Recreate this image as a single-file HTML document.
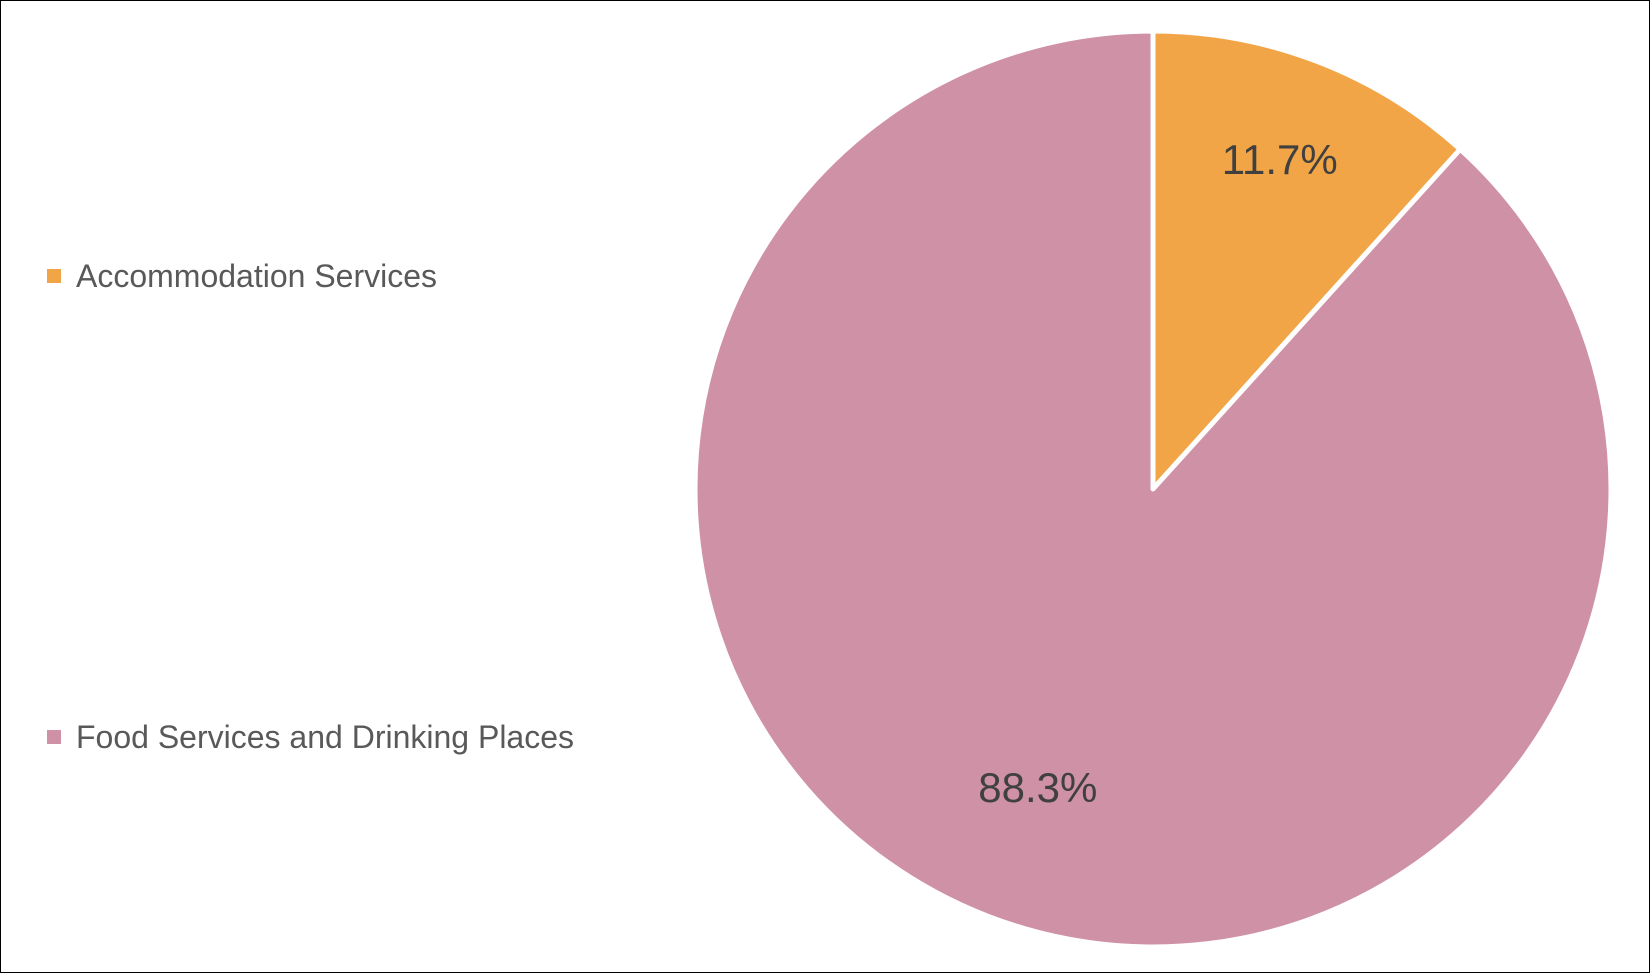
<!DOCTYPE html>
<html><head><meta charset="utf-8"><style>
html,body{margin:0;padding:0;background:#fff}
svg{display:block}
</style></head><body>
<svg width="1650" height="973" viewBox="0 0 1650 973" xmlns="http://www.w3.org/2000/svg">
<rect x="0.5" y="0.5" width="1649" height="972" fill="#fff" stroke="#000" stroke-width="1"/>
<g id="slices"></g>
<g id="legend"></g>
</svg>
<script>
const categories=["Accommodation Services","Food Services and Drinking Places"];
const values=[11.7,88.3];
const labels=["11.7%","88.3%"];
const colors=["#F2A546","#CF91A6"];
const NS="http://www.w3.org/2000/svg";
const cx=1153,cy=489,r=458;
const total=values.reduce((a,b)=>a+b,0);
const g=document.getElementById('slices');
let a0=0;
function pt(a,rr){return [cx+rr*Math.sin(a),cy-rr*Math.cos(a)];}
values.forEach((v,i)=>{
  const a1=a0+v/total*2*Math.PI;
  const p0=pt(a0,r),p1=pt(a1,r);
  const large=(a1-a0)>Math.PI?1:0;
  const p=document.createElementNS(NS,'path');
  p.setAttribute('d',`M${cx},${cy} L${p0[0]},${p0[1]} A${r},${r} 0 ${large} 1 ${p1[0]},${p1[1]} Z`);
  p.setAttribute('fill',colors[i]);
  p.setAttribute('stroke','#fff');
  p.setAttribute('stroke-width','5');
  p.setAttribute('stroke-linejoin','round');
  
  
  g.appendChild(p);
  const mid=(a0+a1)/2;
  const lp=pt(mid,i===0?r*0.77:r*0.7);
  const t=document.createElementNS(NS,'text');
  t.setAttribute('x',lp[0]);t.setAttribute('y',lp[1]+14);
  t.setAttribute('text-anchor','middle');
  t.setAttribute('font-family','Liberation Sans, sans-serif');
  t.setAttribute('font-size','42');
  t.setAttribute('fill','#404040');
  
  
  t.textContent=labels[i];
  g.appendChild(t);
  a0=a1;
});
const lg=document.getElementById('legend');
const ly=[276,737];
categories.forEach((c,i)=>{
  const s=document.createElementNS(NS,'rect');
  s.setAttribute('x',47);s.setAttribute('y',ly[i]-7);s.setAttribute('width',14);s.setAttribute('height',14);
  s.setAttribute('fill',colors[i]);
  
  
  lg.appendChild(s);
  const t=document.createElementNS(NS,'text');
  t.setAttribute('x',76);t.setAttribute('y',ly[i]+11);
  t.setAttribute('font-family','Liberation Sans, sans-serif');
  t.setAttribute('font-size','32');
  t.setAttribute('fill','#595959');
  
  
  t.textContent=c;
  lg.appendChild(t);
});
</script>
</body></html>
